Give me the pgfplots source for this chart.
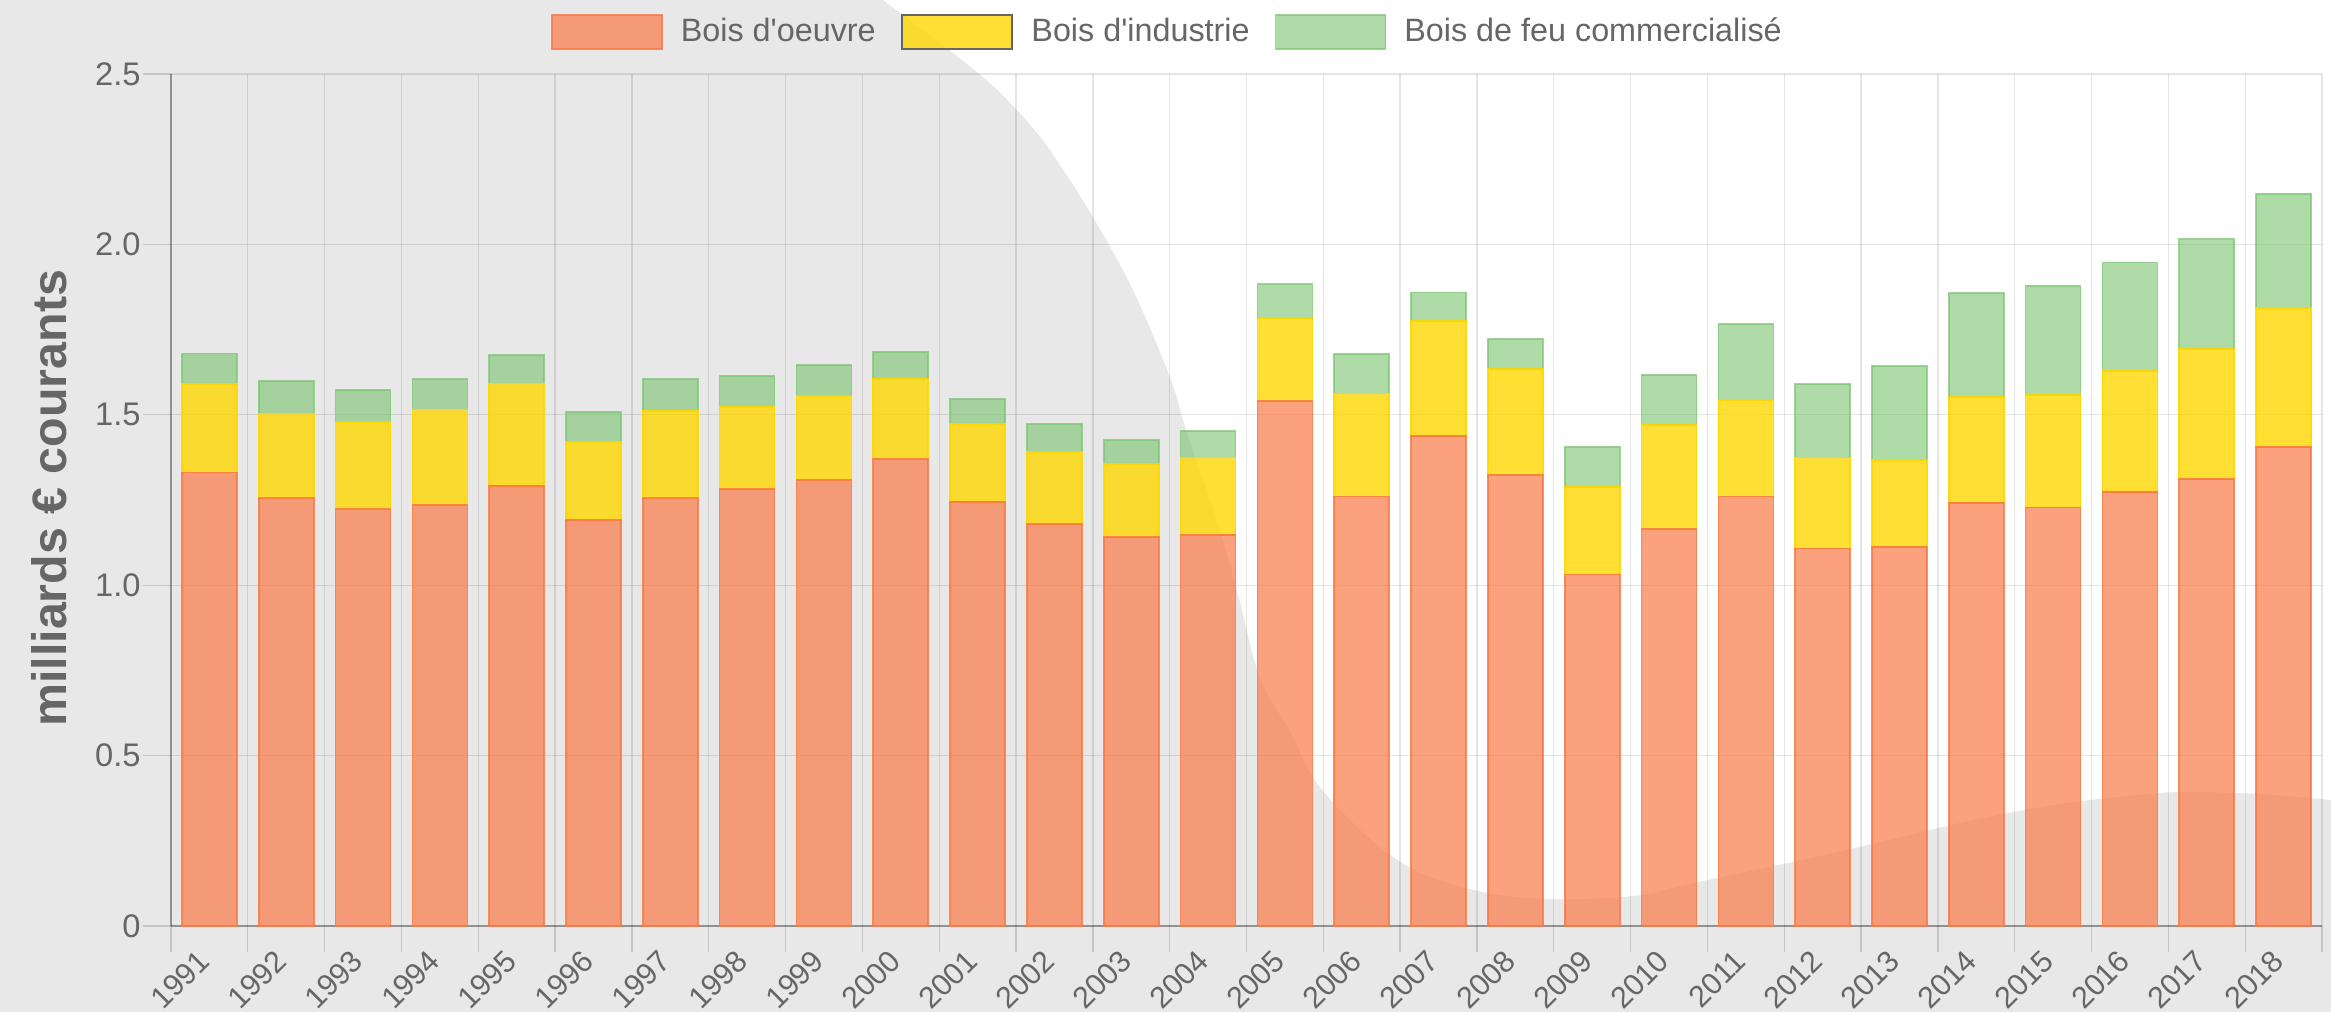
\documentclass[border=0pt]{standalone}
\usepackage{fontspec}
\setmainfont{Liberation Sans}
\usepackage{pgfplots}
\usepackage{pgfplotstable}
\pgfplotsset{compat=1.18}
\definecolor{bgray}{RGB}{232,232,232}
\definecolor{txt}{RGB}{102,102,102}
\definecolor{cor}{RGB}{250,122,70}
\definecolor{gold}{RGB}{255,215,0}
\definecolor{grn}{RGB}{120,195,110}

\pgfplotstableread{
x O Y G
0 1.331 0.259 0.090
1 1.255 0.249 0.095
2 1.223 0.255 0.095
3 1.236 0.280 0.089
4 1.292 0.300 0.083
5 1.191 0.230 0.088
6 1.255 0.257 0.093
7 1.282 0.240 0.092
8 1.308 0.247 0.091
9 1.370 0.235 0.080
10 1.245 0.229 0.072
11 1.179 0.211 0.084
12 1.141 0.214 0.071
13 1.148 0.227 0.077
14 1.540 0.243 0.100
15 1.260 0.303 0.115
16 1.438 0.338 0.083
17 1.324 0.310 0.089
18 1.031 0.258 0.117
19 1.165 0.305 0.147
20 1.260 0.283 0.223
21 1.108 0.267 0.215
22 1.113 0.254 0.276
23 1.242 0.311 0.305
24 1.228 0.330 0.320
25 1.274 0.355 0.318
26 1.311 0.382 0.322
27 1.406 0.407 0.335
}\datatable

\begin{document}
\begin{tikzpicture}
\path[use as bounding box] (-51.3pt,-25.8pt) rectangle (648pt,277.8pt);
\begin{scope}[shift={(-51.3pt,277.8pt)}, x=0.3pt, y=-0.3pt]
\fill[bgray] (0,0) rectangle (2331,1012);
\fill[white] plot[smooth, tension=0.55] coordinates {(883,0) (927,33) (983,77) (1017,110) (1050,150) (1093,217) (1133,290) (1170,377) (1187,433) (1217,520) (1237,590) (1260,678) (1290,731) (1317,783) (1367,836) (1417,871) (1483,892) (1550,899) (1633,896) (1693,883) (1833,853) (1973,820) (2066,803) (2159,793) (2206,792) (2276,795) (2331,800)} -- (2331,0) -- cycle;
\end{scope}
\begin{axis}[
  at={(0,0)}, anchor=south west,
  scale only axis, width=645.3pt, height=255.6pt,
  xmin=-0.5, xmax=27.5, ymin=0, ymax=2.5,
  ybar stacked, bar width=16.5pt,
  xtick={0,...,27},
  xticklabels={1991,1992,1993,1994,1995,1996,1997,1998,1999,2000,2001,2002,2003,2004,2005,2006,2007,2008,2009,2010,2011,2012,2013,2014,2015,2016,2017,2018},
  minor xtick={-0.5,0.5,...,27.5},
  xmajorgrids=false, xminorgrids=true, ymajorgrids=true,
  ytick={0,0.5,1,1.5,2,2.5},
  yticklabels={0,0.5,1.0,1.5,2.0,2.5},
  grid style={black, opacity=0.1, line width=0.4pt},
  minor grid style={black, opacity=0.1, line width=0.4pt},
  axis x line*=bottom, axis y line*=left,
  axis line style={black, opacity=0.3, line width=0.5pt},
  tick align=outside, major tick length=8.4pt, minor tick length=7.8pt,
  major x tick style={draw=none},
  minor x tick style={black, opacity=0.15, line width=0.4pt},
  ytick style={black, opacity=0.15, line width=0.4pt},
  tick label style={font=\fontsize{9.8}{11}\selectfont, text=txt},
  /pgf/number format/assume math mode=true,
  xticklabel style={xshift=0.9pt, yshift=-2.8pt, rotate=45, anchor=south east, inner sep=0pt, font=\fontsize{9.1}{10}\selectfont},
  yticklabel style={inner sep=0.5pt},
  ylabel={milliards € courants},
  every axis y label/.style={at={(axis description cs:-0.0567,0.502)}, rotate=90, anchor=center, font=\bfseries\fontsize{14.5}{16}\selectfont, text=txt},
  legend image code/.code={\draw[#1] (0pt,-5.1pt) rectangle (33pt,5.1pt);},
  legend columns=3,
  legend style={at={(axis description cs:0.4628,1.0493)}, anchor=center, draw=none, fill=none,
    font=\fontsize{9.7}{11}\selectfont, text=txt,
    nodes={inner sep=0pt},
    /tikz/every odd column/.append style={column sep=5.4pt},
    /tikz/every even column/.append style={column sep=7.5pt}},
]
\addplot[fill=cor, fill opacity=0.7, draw=cor, draw opacity=0.85, line width=0.5pt] table[x=x,y=O]{\datatable};
\addlegendentry{Bois d\textquotesingle oeuvre}
\addplot[fill=gold, fill opacity=0.8, draw=gold, draw opacity=0.9, line width=0.5pt, legend image post style={draw=black!60, draw opacity=1, line width=0.8pt}] table[x=x,y=Y]{\datatable};
\addlegendentry{Bois d\textquotesingle industrie}
\addplot[fill=grn, fill opacity=0.6, draw=grn, draw opacity=0.7, line width=0.5pt] table[x=x,y=G]{\datatable};
\addlegendentry{Bois de feu commercialisé}
\end{axis}
\end{tikzpicture}
\end{document}
